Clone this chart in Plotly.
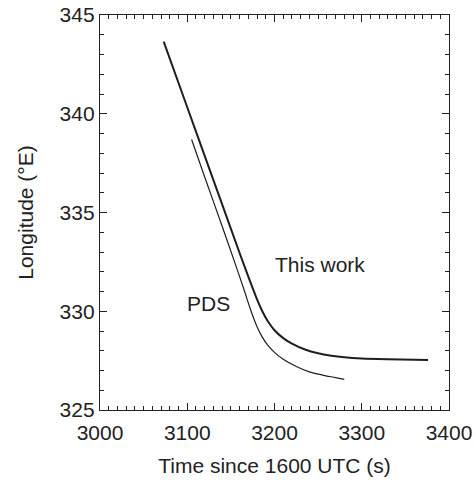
import plotly.graph_objects as go

# Data
this_work_t = [3073, 3100, 3120, 3140, 3160, 3170, 3180, 3186, 3192, 3200, 3210, 3220,
               3235, 3250, 3265, 3280, 3300, 3330, 3376]
this_work_lon = [343.65, 340.33, 337.87, 335.41, 332.95, 331.75, 330.6, 330.0, 329.52,
                 329.04, 328.64, 328.36, 328.06, 327.87, 327.75, 327.67, 327.61, 327.57,
                 327.53]

pds_t = [3105, 3120, 3140, 3155, 3165, 3172, 3176, 3180, 3186, 3192, 3200, 3210,
         3225, 3240, 3255, 3270, 3280]
pds_lon = [338.7, 336.8, 334.3, 332.4, 331.1, 330.15, 329.66, 329.22, 328.69, 328.30,
           327.92, 327.57, 327.2, 326.93, 326.77, 326.64, 326.55]

labels = ["This work", "PDS"]
label_t = [3252, 3124]
label_lon = [332.37, 330.4]

FONT = "Liberation Sans, Arial, Helvetica, sans-serif"
INK = "#1e1e1e"
FS = 21

fig = go.Figure()
fig.add_trace(go.Scatter(x=this_work_t, y=this_work_lon, mode="lines",
                         line=dict(color=INK, width=2, shape="spline", smoothing=0.8),
                         showlegend=False, name=labels[0]))
fig.add_trace(go.Scatter(x=pds_t, y=pds_lon, mode="lines",
                         line=dict(color=INK, width=1.2, shape="spline", smoothing=0.8),
                         showlegend=False, name=labels[1]))

for txt, tx, ty in zip(labels, label_t, label_lon):
    fig.add_annotation(x=tx, y=ty, text=txt, showarrow=False,
                       font=dict(family=FONT, size=FS, color="#222"))

axis_common = dict(
    showline=True, linecolor="#222", linewidth=1.3, mirror="allticks",
    ticks="inside", ticklen=7, tickwidth=1.2, tickcolor="#222",
    showgrid=False, zeroline=False, tickmode="linear", automargin=False,
    tickfont=dict(family=FONT, size=FS, color="#222"),
)

fig.update_xaxes(range=[3000, 3400], tick0=3000, dtick=100, ticklabelstandoff=4,
                 minor=dict(tick0=3000, dtick=10, ticks="inside", ticklen=3.5, tickwidth=1,
                            tickcolor="#222", showgrid=False),
                 title=dict(text="Time since 1600 UTC (s)", font=dict(family=FONT, size=FS, color="#222"),
                            standoff=14),
                 **axis_common)
fig.update_yaxes(range=[325, 345], tick0=325, dtick=5,
                 minor=dict(tick0=325, dtick=1, ticks="inside", ticklen=3.5, tickwidth=1,
                            tickcolor="#222", showgrid=False),
                 title=dict(text="Longitude (°E)", font=dict(family=FONT, size=FS, color="#222"),
                            standoff=20),
                 **axis_common)

fig.update_layout(template="none", width=476, height=480,
                  margin=dict(l=100, r=27, t=15, b=69.5, pad=0),
                  plot_bgcolor="white", paper_bgcolor="white")

fig.write_html("out.html")
